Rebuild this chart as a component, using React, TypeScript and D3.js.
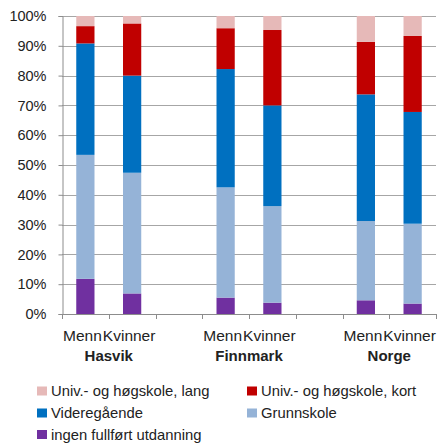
import React from "react";
import * as d3 from "d3";

const groups = ["Hasvik", "Finnmark", "Norge"];
const genders = ["Menn", "Kvinner"];

// values per bar: Hasvik M, Hasvik K, Finnmark M, Finnmark K, Norge M, Norge K
const ingen = [11.8, 6.9, 5.5, 3.8, 4.6, 3.5];
const grunnskole = [41.6, 40.5, 37.0, 32.4, 26.6, 26.8];
const videregaaende = [37.4, 32.6, 39.7, 33.8, 42.5, 37.5];
const hoyKort = [5.8, 17.5, 13.7, 25.3, 17.6, 25.5];
const hoyLang = [3.4, 2.5, 4.1, 4.7, 8.7, 6.7];

const seriesNames = [
  "ingen fullført utdanning",
  "Grunnskole",
  "Videregående",
  "Univ.- og høgskole, kort",
  "Univ.- og høgskole, lang",
];
const seriesColors = ["#7030A0", "#95B3D7", "#0070C0", "#C00000", "#E6B9B8"];

const yTicks = [0, 10, 20, 30, 40, 50, 60, 70, 80, 90, 100];

// legend order as shown
const legendOrder = [4, 3, 2, 1, 0];

const W = 439;
const H = 447;
const FONT = "'Liberation Sans', Arial, sans-serif";

class App extends React.Component {
  private svgRef: React.RefObject<SVGSVGElement | null>;
  constructor(props: {}) {
    super(props);
    this.svgRef = React.createRef();
  }

  componentDidMount() {
    this.createChart();
  }

  createChart() {
    if (!this.svgRef.current) return;
    const svg = d3.select(this.svgRef.current);
    svg.selectAll("*").remove();

    const margin = { top: 16, right: 3, left: 62, bottom: 133 };
    const plotBottom = H - margin.bottom;

    // slots: each group has two bars followed by a gap slot (except the last)
    const slots: string[] = [];
    groups.forEach((g, gi) => {
      genders.forEach((s) => slots.push(`${g}|${s}`));
      if (gi < groups.length - 1) slots.push(`gap${gi}`);
    });

    const x = d3
      .scaleBand<string>()
      .domain(slots)
      .range([margin.left, W - margin.right])
      .paddingInner(0)
      .paddingOuter(0);

    const y = d3.scaleLinear().domain([0, 100]).range([plotBottom, margin.top]);

    const series = [ingen, grunnskole, videregaaende, hoyKort, hoyLang];
    const rows = groups.flatMap((g, gi) =>
      genders.map((s, si) => {
        const idx = gi * 2 + si;
        const row: any = { key: `${g}|${s}` };
        series.forEach((arr, k) => (row[k] = arr[idx]));
        return row;
      })
    );

    const stack = d3.stack<any>().keys(series.map((_, k) => String(k)));
    const stacked = stack(rows);

    // gridlines
    svg
      .append("g")
      .selectAll("line")
      .data(yTicks)
      .join("line")
      .attr("x1", margin.left)
      .attr("x2", W - margin.right)
      .attr("y1", (d) => Math.round(y(d)) + 0.5)
      .attr("y2", (d) => Math.round(y(d)) + 0.5)
      .attr("stroke", "#a6a6a6")
      .attr("stroke-width", 1);

    // bars
    const barW = x.bandwidth() * 0.39;
    svg
      .append("g")
      .selectAll("g")
      .data(stacked)
      .join("g")
      .attr("fill", (_, i) => seriesColors[i])
      .selectAll("rect")
      .data((d) => d)
      .join("rect")
      .attr("x", (d: any) => (x(d.data.key) as number) + x.bandwidth() / 2 - barW / 2)
      .attr("width", barW)
      .attr("y", (d) => y(d[1]))
      .attr("height", (d) => y(d[0]) - y(d[1]));

    // y axis
    const yAxis = svg
      .append("g")
      .attr("transform", `translate(${margin.left + 0.5},0)`)
      .call(
        d3
          .axisLeft(y)
          .tickValues(yTicks)
          .tickSize(4)
          .tickPadding(12)
          .tickFormat((d) => `${d}%`) as any
      );
    yAxis.select(".domain").attr("stroke", "#8c8c8c");
    yAxis.selectAll(".tick line").attr("stroke", "#8c8c8c");
    yAxis
      .selectAll("text")
      .attr("font-family", FONT)
      .attr("font-size", 14.5)
      .attr("fill", "#222");

    // x axis baseline and slot ticks
    const bounds = slots.map((s) => x(s) as number).concat([W - margin.right]);
    svg
      .append("line")
      .attr("x1", margin.left)
      .attr("x2", W - margin.right)
      .attr("y1", plotBottom + 0.5)
      .attr("y2", plotBottom + 0.5)
      .attr("stroke", "#8c8c8c");
    svg
      .append("g")
      .selectAll("line")
      .data(bounds)
      .join("line")
      .attr("x1", (d) => Math.round(d) + 0.5)
      .attr("x2", (d) => Math.round(d) + 0.5)
      .attr("y1", plotBottom)
      .attr("y2", plotBottom + 5)
      .attr("stroke", "#8c8c8c");

    // category labels
    svg
      .append("g")
      .selectAll("text")
      .data(rows)
      .join("text")
      .attr("x", (d: any) => (x(d.key) as number) + x.bandwidth() / 2 - 3)
      .attr("y", plotBottom + 27)
      .attr("text-anchor", "middle")
      .attr("font-family", FONT)
      .attr("font-size", 15.5)
      .attr("fill", "#222")
      .text((d: any) => d.key.split("|")[1]);

    // group labels
    svg
      .append("g")
      .selectAll("text")
      .data(groups)
      .join("text")
      .attr("x", (g) => x(`${g}|Kvinner`) as number)
      .attr("y", plotBottom + 47)
      .attr("text-anchor", "middle")
      .attr("font-family", FONT)
      .attr("font-size", 15)
      .attr("font-weight", "bold")
      .attr("fill", "#222")
      .text((g) => g);

    // legend
    const legendCols = [37, 247];
    const legendRows = [391, 413, 434.5];
    const legend = svg
      .append("g")
      .selectAll("g")
      .data(legendOrder)
      .join("g")
      .attr(
        "transform",
        (_, i) => `translate(${legendCols[i % 2]},${legendRows[Math.floor(i / 2)]})`
      );
    legend
      .append("rect")
      .attr("x", 0)
      .attr("y", -4.5)
      .attr("width", 10)
      .attr("height", 9)
      .attr("fill", (k) => seriesColors[k]);
    legend
      .append("text")
      .attr("x", 14)
      .attr("y", 5)
      .attr("font-family", FONT)
      .attr("font-size", 14.8)
      .attr("fill", "#222")
      .text((k) => seriesNames[k]);
  }

  render() {
    return (
      <svg
        ref={this.svgRef}
        width={W}
        height={H}
        style={{ position: "absolute", left: 0, top: 0, background: "#fff" }}
      ></svg>
    );
  }
}

export default App;
